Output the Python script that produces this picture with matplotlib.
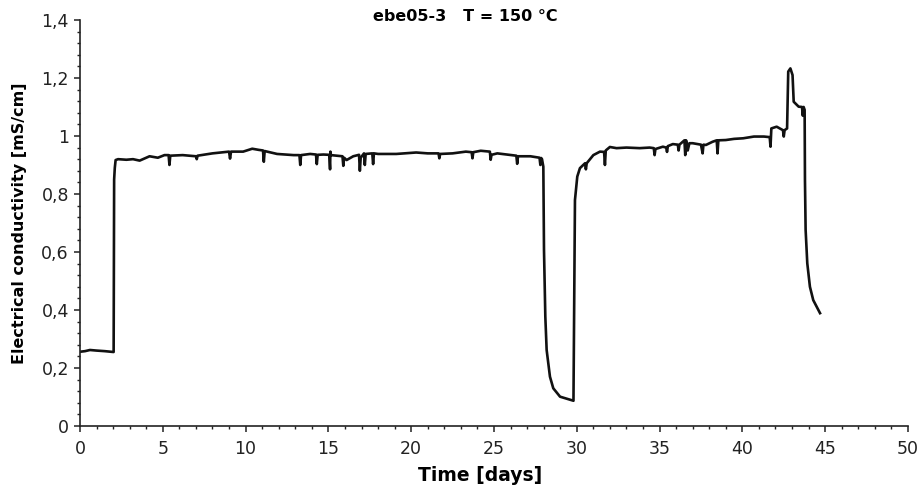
import matplotlib
matplotlib.use("Agg")
import matplotlib.pyplot as plt
from matplotlib.ticker import MultipleLocator, FuncFormatter

plt.rcParams['font.family'] = ['DejaVu Sans']

# start-up: low baseline, then switch-on at day 2
t_start = [0.0, 0.3, 0.6, 1.0, 1.5, 2.0, 2.03, 2.06, 2.1, 2.15]
v_start = [0.256, 0.258, 0.262, 0.26, 0.258, 0.255, 0.255, 0.85, 0.89, 0.917]

# first plateau (with sensor spikes)
t_plat1 = [2.3, 2.8, 3.2, 3.6, 4.2, 4.7, 5.1, 5.35, 5.4, 5.45, 6.2, 7.0, 7.05, 7.1,
           8.0, 9.0, 9.06, 9.12, 9.85, 10.4, 10.8, 11.05, 11.1, 11.15, 11.9, 12.9,
           13.25, 13.3, 13.35, 13.9, 14.25, 14.3, 14.35, 14.7, 15.05, 15.1, 15.12,
           15.15, 15.5, 15.85, 15.9, 15.95, 16.1, 16.5, 16.85, 16.9, 16.95, 17.15,
           17.2, 17.25, 17.65, 17.7, 17.75, 18.0, 19.1, 20.3, 21.0, 21.65, 21.7,
           21.75, 22.5, 23.3, 23.65, 23.7, 23.75, 24.2, 24.75, 24.8, 24.85, 25.2,
           26.35, 26.4, 26.45, 27.2, 27.75, 27.8, 27.85, 27.9]
v_plat1 = [0.92, 0.918, 0.92, 0.915, 0.93, 0.925, 0.934, 0.934, 0.90, 0.932, 0.934,
           0.93, 0.92, 0.932, 0.94, 0.946, 0.922, 0.946, 0.946, 0.956, 0.952, 0.95,
           0.911, 0.948, 0.938, 0.934, 0.934, 0.90, 0.934, 0.938, 0.936, 0.903,
           0.935, 0.936, 0.935, 0.885, 0.946, 0.934, 0.932, 0.93, 0.897, 0.925,
           0.917, 0.93, 0.935, 0.88, 0.925, 0.94, 0.90, 0.938, 0.94, 0.903, 0.94,
           0.938, 0.938, 0.943, 0.94, 0.94, 0.923, 0.938, 0.94, 0.946, 0.944,
           0.923, 0.944, 0.949, 0.946, 0.918, 0.935, 0.94, 0.932, 0.904, 0.93,
           0.93, 0.925, 0.90, 0.924, 0.92]

# interruption and recovery
t_drop = [27.98, 28.02, 28.1, 28.18, 28.38, 28.58, 28.99, 29.4, 29.8, 29.85, 29.89,
          30.03, 30.19]
v_drop = [0.894, 0.607, 0.377, 0.262, 0.17, 0.13, 0.101, 0.094, 0.087, 0.45, 0.779,
          0.86, 0.889]

# second plateau
t_plat2 = [30.5, 30.55, 30.6, 31.0, 31.4, 31.65, 31.7, 31.75, 32.0, 32.4, 33.0, 33.8,
           34.4, 34.65, 34.7, 34.75, 35.2, 35.4, 35.45, 35.5, 35.8, 36.1, 36.15, 36.2,
           36.5, 36.55, 36.6, 36.7, 36.8, 37.0, 37.5, 37.6, 37.65, 37.8, 38.2, 38.45,
           38.5, 38.55, 39.0, 39.5, 40.05, 40.7, 41.3, 41.65, 41.7, 41.75, 42.07,
           42.45, 42.5, 42.55, 42.7]
v_plat2 = [0.906, 0.885, 0.906, 0.934, 0.946, 0.945, 0.90, 0.95, 0.962, 0.958, 0.96,
           0.958, 0.96, 0.958, 0.934, 0.955, 0.963, 0.96, 0.945, 0.965, 0.972, 0.97,
           0.95, 0.97, 0.985, 0.934, 0.985, 0.95, 0.975, 0.975, 0.97, 0.94, 0.97,
           0.969, 0.98, 0.985, 0.94, 0.985, 0.986, 0.99, 0.992, 0.998, 0.998, 0.996,
           0.963, 1.026, 1.032, 1.02, 0.998, 1.02, 1.026]

# peak and final decay
t_end = [42.77, 42.9, 43.03, 43.1, 43.4, 43.6, 43.65, 43.7, 43.76, 43.78, 43.82,
         43.92, 44.08, 44.28, 44.69]
v_end = [1.222, 1.233, 1.21, 1.118, 1.101, 1.1, 1.07, 1.1, 1.09, 0.848, 0.676,
         0.561, 0.48, 0.434, 0.389]

time_days = t_start + t_plat1 + t_drop + t_plat2 + t_end
conductivity = v_start + v_plat1 + v_drop + v_plat2 + v_end

fig = plt.figure(figsize=(9.23, 4.87), dpi=100)
ax = fig.add_axes([0.0867, 0.1253, 0.897, 0.8337])
ax.plot(time_days, conductivity, color='#111111', lw=1.9)

ax.set_xlim(0, 50)
ax.set_ylim(0, 1.4)
ax.xaxis.set_major_locator(MultipleLocator(5))
ax.xaxis.set_minor_locator(MultipleLocator(1))
ax.yaxis.set_major_locator(MultipleLocator(0.2))
ax.yaxis.set_minor_locator(MultipleLocator(0.04))
ax.yaxis.set_major_formatter(FuncFormatter(lambda v, p: ('%g' % round(v, 2)).replace('.', ',')))

for s in ['top', 'right']:
    ax.spines[s].set_visible(False)
for s in ['left', 'bottom']:
    ax.spines[s].set_linewidth(1.2)
    ax.spines[s].set_color('#222222')
ax.tick_params(which='major', direction='out', length=4, width=1.1, labelsize=12.5,
               colors='#222222', pad=4)
ax.tick_params(axis='x', which='major', pad=6)
ax.tick_params(which='minor', direction='out', length=2.5, width=1.0, colors='#222222')

ax.set_xlabel('Time [days]', fontsize=13.5, fontweight='bold', va='center')
ax.xaxis.set_label_coords(0.483, -0.122)
ax.set_ylabel('Electrical conductivity [mS/cm]', fontsize=11.5, fontweight='bold', labelpad=10)
fig.text(0.504, 0.966, 'ebe05-3   T = 150 \u00b0C', ha='center', va='center',
         fontsize=11.5, fontweight='bold')

fig.savefig('out.png', dpi=100)
